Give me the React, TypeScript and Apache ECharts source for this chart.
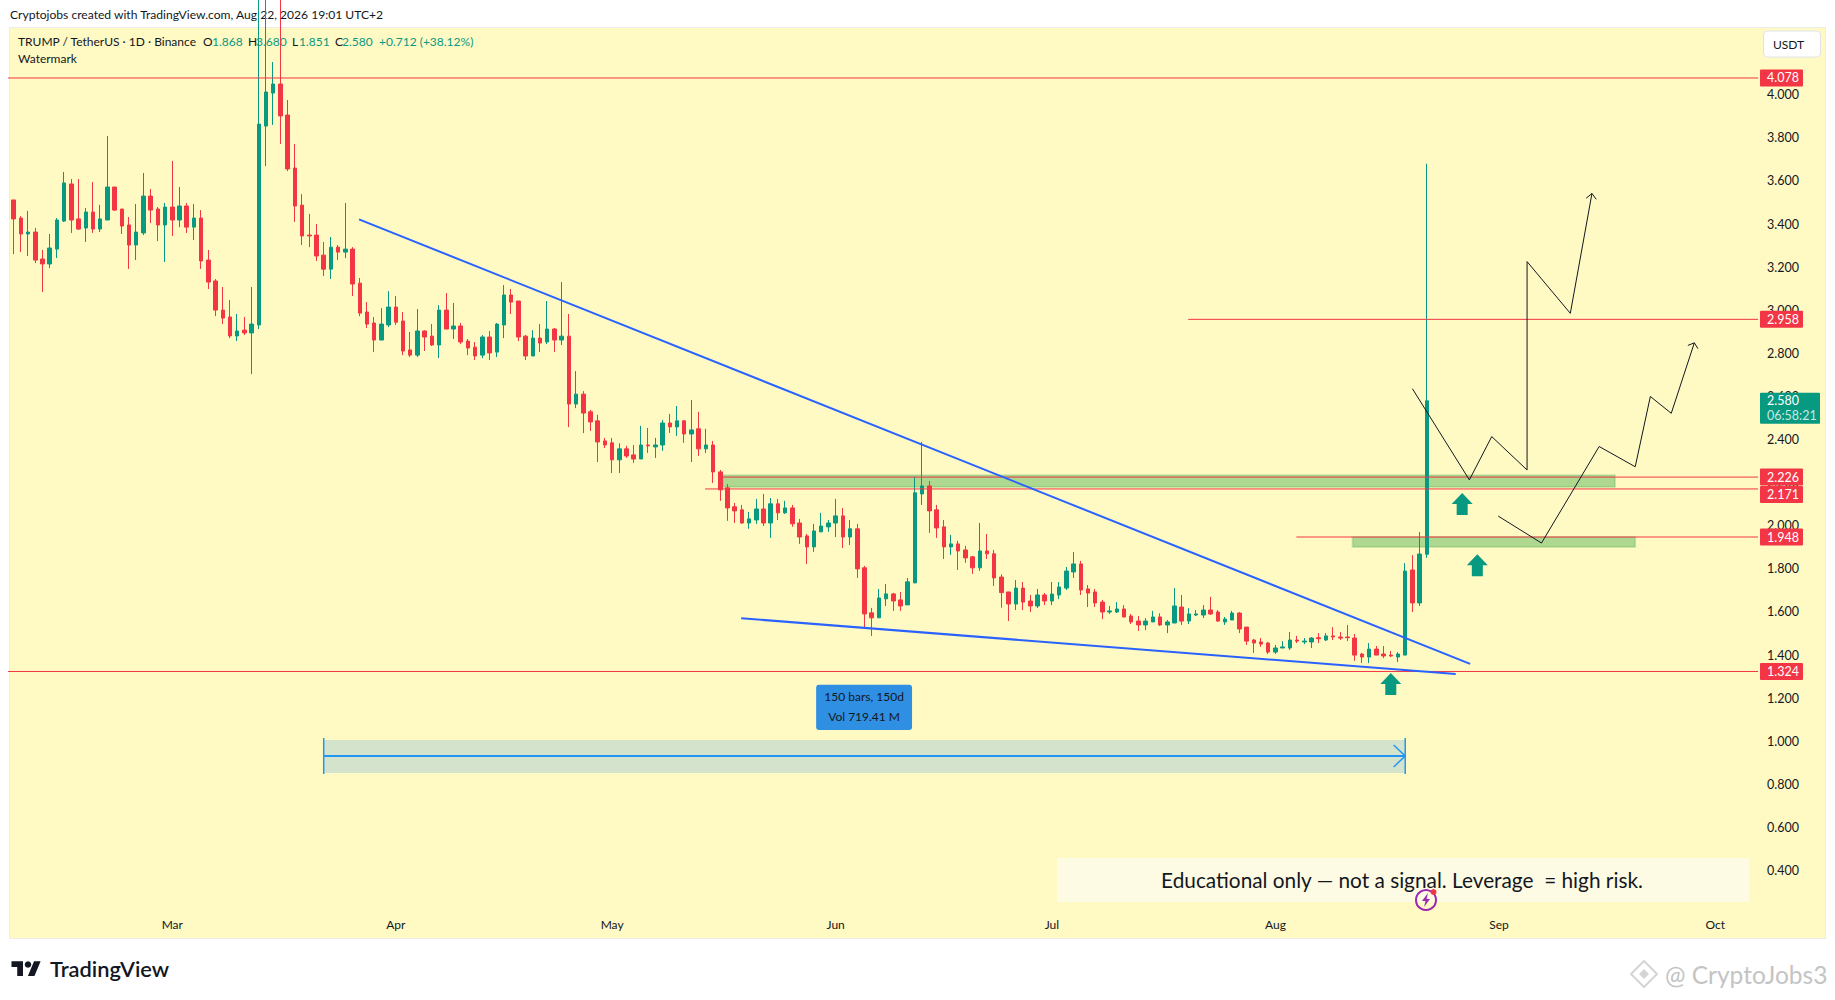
import React, { useEffect, useRef } from "react";
import * as echarts from "echarts";

// ---- candles, one row per day: [open, high, low, close]
const febCandles = [
  [3.512,3.512,3.261,3.424],[3.428,3.437,3.270,3.354],[3.354,3.461,3.252,3.363],[3.363,3.382,3.219,3.233],
  [3.238,3.280,3.085,3.215],[3.215,3.354,3.196,3.289],[3.284,3.428,3.243,3.419],[3.414,3.642,3.410,3.591],
  [3.586,3.609,3.359,3.419],[3.424,3.609,3.373,3.377],[3.382,3.475,3.317,3.456],[3.456,3.595,3.359,3.377],
  [3.377,3.489,3.363,3.424],[3.419,3.809,3.419,3.572],[3.572,3.572,3.461,3.465],[3.470,3.470,3.354,3.391],
  [3.396,3.433,3.192,3.303],[3.303,3.493,3.233,3.363],[3.359,3.637,3.349,3.530],[3.530,3.563,3.405,3.465],
  [3.470,3.479,3.321,3.396],[3.396,3.498,3.224,3.479],
];
const marCandles = [
  [3.479,3.693,3.345,3.419],[3.419,3.572,3.386,3.484],[3.484,3.498,3.359,3.386],[3.386,3.493,3.326,3.428],
  [3.428,3.465,3.192,3.229],[3.233,3.280,3.099,3.131],[3.136,3.145,2.973,3.001],[3.001,3.108,2.936,2.964],
  [2.969,3.048,2.871,2.881],[2.881,2.983,2.857,2.904],[2.908,2.969,2.885,2.895],[2.895,3.108,2.704,2.936],
  [2.932,4.6,2.913,3.864],[3.855,4.6,3.669,4.013],[4.008,4.152,3.860,4.050],[4.050,4.6,3.772,3.902],
  [3.906,3.976,3.646,3.656],[3.660,3.772,3.410,3.484],[3.488,3.539,3.303,3.345],[3.349,3.447,3.293,3.345],
  [3.349,3.400,3.229,3.252],[3.256,3.317,3.159,3.191],[3.191,3.340,3.145,3.293],[3.293,3.303,3.233,3.270],
  [3.270,3.498,3.242,3.284],[3.284,3.293,3.066,3.122],[3.126,3.150,2.973,2.987],[2.992,3.038,2.918,2.936],
  [2.941,2.969,2.806,2.862],[2.862,3.010,2.862,2.936],[2.932,3.089,2.922,3.015],
];
const aprCandles = [
  [3.015,3.066,2.932,2.945],[2.950,2.992,2.792,2.811],[2.816,2.899,2.783,2.792],[2.792,3.006,2.783,2.904],
  [2.904,2.908,2.811,2.876],[2.880,2.936,2.834,2.839],[2.839,3.024,2.778,3.001],[3.001,3.080,2.913,2.913],
  [2.913,3.034,2.867,2.927],[2.927,2.941,2.843,2.853],[2.857,2.867,2.792,2.825],[2.829,2.853,2.769,2.788],
  [2.792,2.885,2.778,2.876],[2.876,2.904,2.769,2.802],[2.806,2.941,2.783,2.936],[2.932,3.117,2.871,3.071],
  [3.071,3.099,2.983,3.038],[3.043,3.043,2.857,2.876],[2.880,2.885,2.769,2.788],[2.788,2.908,2.788,2.871],
  [2.871,2.936,2.806,2.848],[2.853,3.043,2.843,2.913],[2.913,2.918,2.806,2.862],[2.862,3.131,2.839,2.880],
  [2.880,2.983,2.458,2.565],[2.565,2.718,2.546,2.611],[2.611,2.625,2.430,2.523],[2.529,2.538,2.440,2.482],
  [2.487,2.515,2.296,2.389],[2.394,2.408,2.361,2.375],
];
const mayCandles = [
  [2.385,2.408,2.245,2.306],[2.306,2.383,2.245,2.357],[2.357,2.371,2.315,2.324],[2.329,2.375,2.292,2.310],
  [2.310,2.464,2.310,2.375],[2.375,2.454,2.338,2.371],[2.366,2.408,2.315,2.375],[2.375,2.491,2.348,2.477],
  [2.477,2.519,2.431,2.459],[2.459,2.556,2.417,2.487],[2.487,2.491,2.385,2.426],[2.426,2.584,2.296,2.445],
  [2.450,2.529,2.324,2.357],[2.357,2.450,2.338,2.375],[2.375,2.394,2.199,2.250],[2.250,2.259,2.116,2.167],
  [2.176,2.194,2.023,2.083],[2.088,2.106,2.013,2.069],[2.074,2.097,2.009,2.013],[2.013,2.064,1.986,2.032],
  [2.027,2.125,2.009,2.078],[2.078,2.148,1.999,2.013],[2.013,2.129,1.944,2.102],[2.102,2.125,2.027,2.060],
  [2.060,2.116,2.055,2.083],[2.083,2.097,1.995,2.009],[2.013,2.032,1.916,1.948],[1.953,1.962,1.823,1.902],
  [1.902,2.009,1.879,1.976],[1.972,2.060,1.972,1.999],[1.995,2.027,1.972,2.013],
];
const junCandles = [
  [2.013,2.125,1.948,2.046],[2.046,2.083,1.897,1.948],[1.948,2.027,1.911,1.986],[1.986,2.009,1.758,1.800],
  [1.805,1.814,1.522,1.591],[1.596,1.619,1.489,1.573],[1.573,1.707,1.573,1.665],[1.661,1.730,1.628,1.684],
  [1.684,1.689,1.605,1.651],[1.656,1.693,1.605,1.628],[1.633,1.758,1.633,1.740],[1.735,2.227,1.735,2.153],
  [2.148,2.389,2.097,2.185],[2.185,2.208,1.967,2.069],[2.074,2.097,1.944,1.990],[1.995,2.027,1.846,1.902],
  [1.902,1.958,1.865,1.916],[1.916,1.930,1.795,1.883],[1.888,1.907,1.828,1.851],[1.856,1.860,1.777,1.805],
  [1.805,2.013,1.791,1.883],[1.883,1.962,1.846,1.870],[1.870,1.888,1.721,1.758],[1.762,1.775,1.620,1.690],
  [1.693,1.693,1.558,1.637],[1.637,1.748,1.609,1.711],[1.711,1.739,1.609,1.646],[1.651,1.679,1.600,1.628],
  [1.628,1.707,1.618,1.679],[1.679,1.688,1.632,1.651],
];
const julCandles = [
  [1.651,1.739,1.632,1.683],[1.679,1.739,1.660,1.716],[1.711,1.809,1.702,1.790],[1.786,1.878,1.758,1.823],
  [1.823,1.837,1.679,1.702],[1.707,1.725,1.623,1.688],[1.693,1.707,1.623,1.642],[1.646,1.656,1.567,1.600],
  [1.600,1.628,1.591,1.605],[1.600,1.646,1.595,1.614],[1.614,1.632,1.575,1.577],[1.581,1.591,1.544,1.554],
  [1.558,1.581,1.512,1.540],[1.540,1.572,1.516,1.558],[1.554,1.605,1.554,1.577],[1.577,1.594,1.535,1.540],
  [1.540,1.563,1.502,1.554],[1.549,1.711,1.549,1.628],[1.623,1.679,1.540,1.558],[1.558,1.618,1.544,1.591],
  [1.586,1.609,1.581,1.591],[1.586,1.632,1.572,1.609],[1.609,1.670,1.586,1.591],[1.600,1.609,1.554,1.558],
  [1.554,1.577,1.540,1.567],[1.563,1.605,1.563,1.595],[1.595,1.600,1.502,1.521],[1.530,1.530,1.447,1.465],
  [1.470,1.475,1.410,1.456],[1.461,1.479,1.438,1.451],[1.456,1.461,1.405,1.414],
];
const augCandles = [
  [1.414,1.447,1.405,1.433],[1.433,1.465,1.433,1.438],[1.433,1.507,1.424,1.470],[1.470,1.489,1.456,1.465],
  [1.461,1.479,1.451,1.465],[1.461,1.484,1.433,1.479],[1.481,1.502,1.456,1.476],[1.470,1.502,1.465,1.489],
  [1.489,1.530,1.470,1.484],[1.484,1.507,1.470,1.479],[1.484,1.540,1.465,1.481],[1.479,1.498,1.373,1.400],
  [1.405,1.410,1.363,1.391],[1.391,1.456,1.363,1.428],[1.428,1.442,1.400,1.400],[1.405,1.442,1.386,1.396],
  [1.400,1.419,1.391,1.396],[1.391,1.414,1.368,1.405],[1.400,1.827,1.400,1.790],[1.795,1.864,1.600,1.642],
  [1.642,1.971,1.628,1.869],[1.868,3.680,1.851,2.580],
];

// ---- axis ticks
const priceTicks = [0.4,0.6,0.8,1.0,1.2,1.4,1.6,1.8,2.0,2.2,2.4,2.6,2.8,3.0,3.2,3.4,3.6,3.8,4.0];
const monthBars = [22,53,83,114,144,175,206,236];
const monthLabels = ["Mar","Apr","May","Jun","Jul","Aug","Sep","Oct"];

// ---- drawings, in [bar, price]
const fallingTop = [[47.9,3.422],[202.0,1.359]];
const fallingBottom = [[100.9,1.571],[200.0,1.312]];
const scenarioHigh = [[194.0,2.636],[201.9,2.213],[205.0,2.414],[209.9,2.259],[209.9,3.226],[215.9,2.986],[218.9,3.542]];
const scenarioHighHead = [[218.1,3.520],[218.9,3.542],[219.5,3.515]];
const scenarioLow = [[205.9,2.045],[211.9,1.920],[219.9,2.368],[224.9,2.274],[227.0,2.600],[229.9,2.522],[233.1,2.849]];
const scenarioLowHead = [[232.2,2.837],[233.1,2.849],[233.6,2.822]];
const levels = [[-1,4.078],[162.9,2.958],[98.3,2.226],[95.9,2.171],[177.9,1.948],[-1,1.324]];
const zones = [[98.3,222.1,2.234,2.180],[185.7,224.9,1.948,1.902]];
const upArrows = [[191.0,1.266],[200.9,2.101],[203.0,1.817]];
const rangeBand = [[43,193,1.006,0.853]];
const rangeLine = [[43,0.932],[193,0.932]];
const rangeStart = [[43,1.015],[43,0.848]];
const rangeEnd = [[193,1.015],[193,0.848]];
const rangeHead = [[191.4,0.983],[193,0.932],[191.4,0.881]];
const rangeNote = [[111.3,124.6,1.262,1.053]];
const rangeNoteLines = ["150 bars, 150d","Vol 719.41 M"];
const priceTags = [[4.078,0],[2.958,0],[2.226,0],[2.171,5.5],[1.948,0],[1.324,0]];
const lastPrice = 2.58;
const lastCountdown = "06:58:21";

const legendPieces = [
  ["TRUMP / TetherUS · 1D · Binance",18,"#131722"],
  ["O",203,"#131722"],["1.868",212,"#089981"],
  ["H",248,"#131722"],["3.680",256,"#089981"],
  ["L",292,"#131722"],["1.851",299,"#089981"],
  ["C",335,"#131722"],["2.580",342,"#089981"],
  ["+0.712 (+38.12%)",379,"#089981"],
];

const FONT = "Lato";
const GREEN = "#089981";
const RED = "#f23645";
const X_MIN = -0.649, X_MAX = 241.93;
const Y_MIN = 0.0826, Y_MAX = 4.3146;

const allCandles = [...febCandles,...marCandles,...aprCandles,...mayCandles,...junCandles,...julCandles,...augCandles];

echarts.graphic.registerShape("tvLogo", echarts.graphic.extendPath("M14 22H7V11H0V4h14v18zM28 22h-8l7.5-18h8L28 22z", {}));

const lineSeries = (points: number[][], color: string, width: number, z = 5) => ({
  type: "line", data: points, symbol: "none", silent: true, z, animation: false,
  lineStyle: { color, width, join: "miter" }, emphasis: { disabled: true },
});

const bandSeries = (rows: number[][], style: any, z = 1) => ({
  type: "custom", silent: true, z, data: rows, encode: { x: [0,1], y: [2,3] },
  renderItem: (_: any, api: any) => {
    const a = api.coord([api.value(0), api.value(2)]);
    const b = api.coord([api.value(1), api.value(3)]);
    return { type: "rect", shape: { x: a[0], y: a[1], width: b[0]-a[0], height: b[1]-a[1] }, style };
  },
});

export default function App() {
  const ref = useRef<HTMLDivElement>(null);
  useEffect(() => {
    const chart = echarts.init(ref.current!, null, { renderer: "svg" });
    const txt = (text: string, x: number, y: number, size: number, fill: string, extra: any = {}) => ({
      type: "text", x, y, silent: true,
      style: { text, fill, fontSize: size, fontFamily: FONT, align: "left", verticalAlign: "middle", ...extra },
    });
    chart.setOption({
      animation: false,
      backgroundColor: "transparent",
      grid: { left: 9, right: 77, top: 27, bottom: 61, containLabel: false },
      tooltip: { show: false },
      xAxis: {
        type: "value", min: X_MIN, max: X_MAX,
        axisLine: { show: false }, axisTick: { show: false }, splitLine: { show: false },
        axisLabel: {
          inside: true, margin: 9, color: "#131722", fontSize: 12, fontFamily: FONT,
          customValues: monthBars,
          formatter: (v: number) => monthLabels[monthBars.indexOf(v)] ?? "",
        },
      },
      yAxis: {
        type: "value", position: "right", min: Y_MIN, max: Y_MAX,
        axisLine: { show: false }, axisTick: { show: false }, splitLine: { show: false },
        axisLabel: {
          margin: 9, color: "#131722", fontSize: 12.5, fontFamily: FONT,
          customValues: priceTicks, formatter: (v: number) => v.toFixed(3),
        },
      },
      series: [
        bandSeries(zones, { fill: "rgba(76,175,80,0.45)", stroke: "rgba(76,175,80,0.25)", lineWidth: 2 }, 1),
        bandSeries(rangeBand, { fill: "#d4e3cc" }, 1),
        {
          type: "candlestick", z: 3, silent: true, barWidth: 4,
          data: allCandles.map((c, i) => [i, c[0], c[3], c[2], c[1]]),
          encode: { x: 0, y: [1,2,3,4] },
          itemStyle: { color: GREEN, color0: RED, borderColor: GREEN, borderColor0: RED, borderWidth: 1 },
        },
        ...levels.map((l) => lineSeries([[l[0], l[1]], [X_MAX, l[1]]], RED, 1, 4)),
        lineSeries(fallingTop, "#2962ff", 2, 6),
        lineSeries(fallingBottom, "#2962ff", 2, 6),
        lineSeries(scenarioHigh, "#131722", 1, 7),
        lineSeries(scenarioHighHead, "#131722", 1, 7),
        lineSeries(scenarioLow, "#131722", 1, 7),
        lineSeries(scenarioLowHead, "#131722", 1, 7),
        lineSeries(rangeLine, "#2196f3", 2, 5),
        lineSeries(rangeStart, "#2196f3", 1.5, 5),
        lineSeries(rangeEnd, "#2196f3", 1.5, 5),
        lineSeries(rangeHead, "#2196f3", 1.5, 5),
        {
          type: "scatter", z: 8, silent: true, data: upArrows,
          symbol: "path://M10.5 0L21 11L16 11L16 22L5 22L5 11L0 11Z", symbolSize: [21,22], symbolKeepAspect: false,
          itemStyle: { color: GREEN, opacity: 1 },
        },
        {
          type: "custom", silent: true, z: 9, data: rangeNote, encode: { x: [0,1], y: [2,3] },
          renderItem: (_: any, api: any) => {
            const a = api.coord([api.value(0), api.value(2)]);
            const b = api.coord([api.value(1), api.value(3)]);
            const cx = (a[0]+b[0])/2;
            return { type: "group", children: [
              { type: "rect", shape: { x: a[0], y: a[1], width: b[0]-a[0], height: b[1]-a[1], r: 3 }, style: { fill: "#2e8fe3" } },
              ...rangeNoteLines.map((t, k) => ({ type: "text", x: cx, y: a[1]+12+k*20,
                style: { text: t, fill: "#131722", fontSize: 12, fontFamily: FONT, align: "center", verticalAlign: "middle" } })),
            ]};
          },
        },
        {
          type: "custom", silent: true, z: 10, data: priceTags.map((t) => [X_MAX, t[0], t[1]]), encode: { x: 0, y: 1 },
          renderItem: (_: any, api: any) => {
            const p = api.coord([api.value(0), api.value(1)]);
            const y = p[1] + api.value(2);
            return { type: "group", children: [
              { type: "rect", shape: { x: p[0]+2, y: y-8.5, width: 43, height: 17, r: 1 }, style: { fill: RED } },
              { type: "text", x: p[0]+9, y, style: { text: api.value(1).toFixed(3), fill: "#fff", fontSize: 12.5, fontFamily: FONT, align: "left", verticalAlign: "middle" } },
            ]};
          },
        },
        {
          type: "custom", silent: true, z: 10, data: [[X_MAX, lastPrice]], encode: { x: 0, y: 1 },
          renderItem: (_: any, api: any) => {
            const p = api.coord([api.value(0), api.value(1)]);
            return { type: "group", children: [
              { type: "rect", shape: { x: p[0]+2, y: p[1]-8, width: 60, height: 31, r: 1 }, style: { fill: GREEN } },
              { type: "text", x: p[0]+9, y: p[1], style: { text: api.value(1).toFixed(3), fill: "#fff", fontSize: 12.5, fontFamily: FONT, align: "left", verticalAlign: "middle" } },
              { type: "text", x: p[0]+9, y: p[1]+14.5, style: { text: lastCountdown, fill: "#c9e8e0", fontSize: 12.5, fontFamily: FONT, align: "left", verticalAlign: "middle" } },
            ]};
          },
        },
      ],
      graphic: [
        txt("Cryptojobs created with TradingView.com, Aug 22, 2026 19:01 UTC+2", 10, 14.5, 12.1, "#131722"),
        ...legendPieces.map((p) => txt(p[0] as string, p[1] as number, 41.5, 12, p[2] as string)),
        txt("Watermark", 18, 58.5, 12, "#131722"),
        { type: "rect", silent: true, shape: { x: 1763.5, y: 31, width: 57, height: 26, r: 4 }, style: { fill: "#fff", stroke: "#e0e3eb", lineWidth: 1 } },
        txt("USDT", 1773, 44.5, 12, "#131722"),
        { type: "rect", silent: true, shape: { x: 1057, y: 858, width: 692, height: 44 }, style: { fill: "#fefbe4" } },
        txt("Educational only — not a signal. Leverage  = high risk.", 1402, 879, 20.8, "#131722", { align: "center" }),
        { type: "circle", silent: true, shape: { cx: 1426, cy: 900, r: 10 }, style: { fill: "none", stroke: "#9c27b0", lineWidth: 2 } },
        { type: "polygon", silent: true, shape: { points: [[1428,893],[1422,901],[1425.5,901],[1424,907],[1430,899],[1426.5,899]] }, style: { fill: "#9c27b0" } },
        { type: "circle", silent: true, shape: { cx: 1433.5, cy: 892, r: 3 }, style: { fill: RED } },
        { type: "tvLogo", silent: true, x: 11.5, y: 958, scaleX: 0.82, scaleY: 0.82, style: { fill: "#131722" } },
        { type: "circle", silent: true, shape: { cx: 28, cy: 964.5, r: 3.3 }, style: { fill: "#131722" } },
        txt("TradingView", 50, 968.5, 21.8, "#131722", { fontWeight: 600 }),
        { type: "polygon", silent: true, shape: { points: [[1644,961],[1657,974],[1644,987],[1631,974]] }, style: { fill: "none", stroke: "#d5d5d5", lineWidth: 2 } },
        { type: "polygon", silent: true, shape: { points: [[1644,969],[1649,974],[1644,979],[1639,974]] }, style: { fill: "#d5d5d5" } },
        txt("@ CryptoJobs3", 1665, 974.5, 24.5, "#c4c4c4"),
      ],
    });
    return () => chart.dispose();
  }, []);
  return (
    <div style={{ position: "absolute", left: 0, top: 0, width: 1835, height: 1000, background: "#fff", overflow: "hidden" }}>
      <div style={{ position: "absolute", left: 9, top: 27, width: 1815, height: 910, background: "#fff9c4", border: "1px solid #ececec" }} />
      <div ref={ref} style={{ position: "absolute", left: 0, top: 0, width: 1835, height: 1000 }} />
    </div>
  );
}
